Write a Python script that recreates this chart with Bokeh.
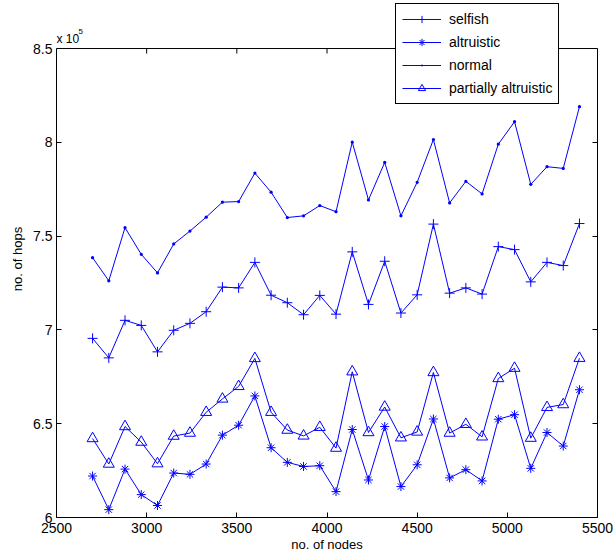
import math
from bokeh.plotting import figure
from bokeh.models import LinearAxis, FixedTicker, Legend, LegendItem, Label, Range1d
from bokeh.embed import file_html
from bokeh.resources import INLINE

nodes = [2700, 2790, 2880, 2970, 3060, 3150, 3240, 3330, 3420, 3510, 3600,
         3690, 3780, 3870, 3960, 4050, 4140, 4230, 4320, 4410, 4500, 4590,
         4680, 4770, 4860, 4950, 5040, 5130, 5220, 5310, 5400]

selfish = [695500, 685100, 705100, 702400, 688300, 699800, 703500, 709700,
           722800, 722400, 736000, 718500, 714500, 708100, 718400, 708400,
           741600, 713600, 736600, 709000, 718700, 756400, 719600, 722400,
           719100, 744400, 742800, 725600, 736000, 734300, 756700]

altruistic = [622100, 604200, 625800, 612200, 606400, 623700, 623000, 628500,
              643900, 649200, 664800, 637200, 629400, 627200, 627600, 613800,
              646900, 620000, 648500, 616500, 628100, 652500, 621100, 625500,
              619500, 652400, 654800, 626200, 645300, 638100, 668100]

normal = [738500, 726200, 754500, 740300, 730400, 745800, 752700, 760100,
          768100, 768400, 783600, 773400, 759900, 760800, 766300, 763000,
          800100, 769300, 789300, 760800, 778700, 801500, 767700, 779200,
          772500, 799000, 811000, 777600, 787000, 786100, 819000]

partially = [642100, 628500, 648500, 640200, 628700, 643400, 645000, 656100,
             663200, 669900, 684800, 656100, 646600, 643500, 648100, 637000,
             677700, 645300, 658900, 642500, 645600, 677300, 645000, 649700,
             643000, 674100, 679600, 642300, 658700, 660200, 684900]

x_ticks = [2500, 3000, 3500, 4000, 4500, 5000, 5500]
y_ticks = [600000, 650000, 700000, 750000, 800000, 850000]
y_tick_labels = ["6", "6.5", "7", "7.5", "8", "8.5"]

FONT = "Liberation Sans"
BLUE = "#0000ff"

# frame extends above the axes box so the legend (which overlaps the box top) is not clipped
p = figure(width=613, height=554, x_range=Range1d(2500, 5500),
           y_range=Range1d(600000, 875600), output_backend="svg",
           toolbar_location=None, min_border_left=56, min_border_top=0,
           min_border_right=16, min_border_bottom=37)

p.xgrid.visible = False
p.ygrid.visible = False
p.outline_line_color = None
p.background_fill_color = "white"
p.border_fill_color = "white"

p.xaxis.ticker = FixedTicker(ticks=x_ticks)
p.yaxis.ticker = FixedTicker(ticks=y_ticks)
p.yaxis.bounds = (y_ticks[0], y_ticks[-1])
p.yaxis.major_label_overrides = {t: l for t, l in zip(y_ticks, y_tick_labels)}
p.xaxis.axis_label = "no. of nodes"
p.yaxis.axis_label = "no. of hops"

right_axis = LinearAxis(ticker=FixedTicker(ticks=y_ticks),
                        bounds=(y_ticks[0], y_ticks[-1]),
                        major_label_overrides={t: "" for t in y_ticks},
                        major_label_standoff=0)
p.add_layout(right_axis, "right")

for ax in p.axis:
    ax.major_tick_in = 5
    ax.major_tick_out = 0
    ax.minor_tick_line_color = None
    ax.axis_line_color = "black"
    ax.major_tick_line_color = "black"
    ax.major_label_text_font = FONT
    ax.major_label_text_font_size = "14px"
    ax.major_label_text_color = "black"
    ax.axis_label_text_font = FONT
    ax.axis_label_text_font_size = "13px"
    ax.axis_label_text_font_style = "normal"
    ax.axis_label_text_color = "black"

p.xaxis.major_label_standoff = 5
p.xaxis.axis_label_standoff = 1
p.yaxis.major_label_standoff = 4
p.yaxis.axis_label_standoff = 5

# top edge of the axes box with inward ticks
p.line([x_ticks[0], x_ticks[-1]], [y_ticks[-1], y_ticks[-1]],
       line_color="black", line_width=1)
p.ray(x=x_ticks[1:-1], y=[y_ticks[-1]] * (len(x_ticks) - 2), length=5,
      length_units="screen", angle=-math.pi / 2, line_color="black",
      line_width=1)

items = []
series = [("selfish", selfish, "cross", 10, BLUE),
          ("altruistic", altruistic, "asterisk", 9, BLUE),
          ("normal", normal, "dot", 13, BLUE),
          ("partially altruistic", partially, "triangle", 11, None)]
for name, vals, marker, size, fill in series:
    lr = p.line(nodes, vals, line_color=BLUE, line_width=1)
    mr = p.scatter(nodes, vals, marker=marker, size=size, line_color=BLUE,
                   fill_color=fill, line_width=1)
    items.append(LegendItem(label=name, renderers=[lr, mr]))

legend = Legend(items=items, location=(339, 413), label_text_font=FONT,
                label_text_font_size="14px", label_text_color="black",
                border_line_color="black", border_line_alpha=1.0,
                border_line_width=1, glyph_width=39, glyph_height=18,
                label_height=18, spacing=5, padding=6, margin=0,
                label_standoff=8, background_fill_alpha=1.0)
p.add_layout(legend, "center")

p.add_layout(Label(x=x_ticks[0], y=y_ticks[-1], x_offset=0, y_offset=3,
                   text="x 10", text_font=FONT, text_font_size="12px",
                   text_baseline="bottom", text_color="black"))
p.add_layout(Label(x=x_ticks[0], y=y_ticks[-1], x_offset=22, y_offset=15,
                   text="5", text_font=FONT, text_font_size="8px",
                   text_baseline="bottom", text_color="black"))

open("out.html", "w").write(file_html(p, INLINE))
